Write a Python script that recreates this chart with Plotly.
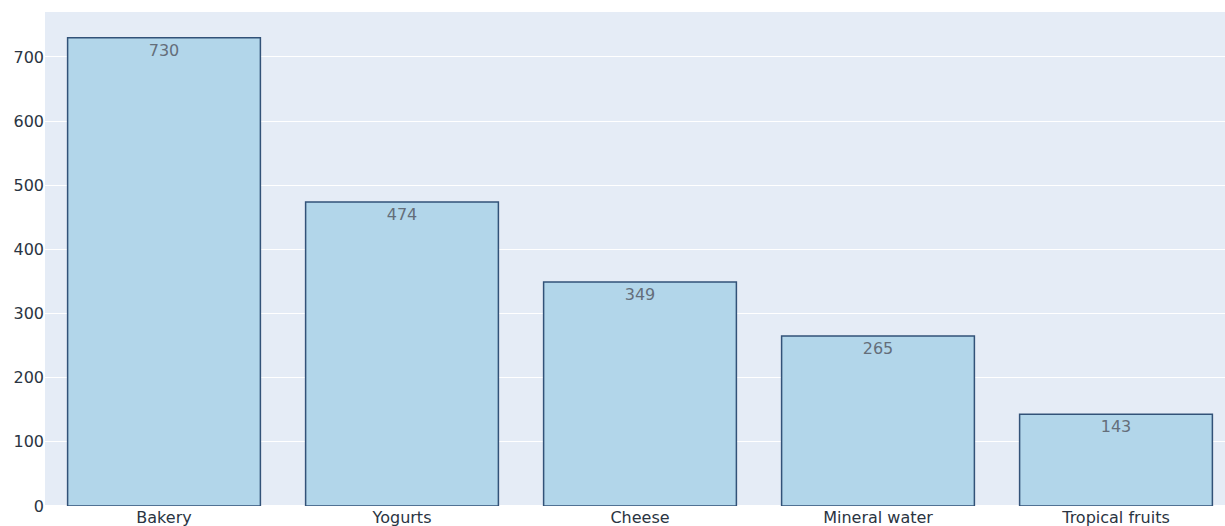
import plotly.graph_objects as go

categories = ["Bakery", "Yogurts", "Cheese", "Mineral water", "Tropical fruits"]
values = [730, 474, 349, 265, 143]

fig = go.Figure(go.Bar(
    x=categories,
    y=values,
    text=values,
    textposition="inside",
    insidetextanchor="end",
    textfont=dict(size=16, color="rgb(100,110,122)"),
    marker=dict(color="rgb(178,214,234)", line=dict(color="rgb(50,82,120)", width=1.5)),
))

fig.update_layout(
    width=1225,
    height=526,
    margin=dict(l=45, r=0, t=12, b=20),
    bargap=0.19,
    font=dict(family="DejaVu Sans, Verdana, sans-serif", size=16, color="rgb(42,52,66)"),
    showlegend=False,
)
fig.update_xaxes(range=[-0.5, 4.458])
fig.update_yaxes(range=[0, 770], dtick=100)

fig.write_html("out.html")
